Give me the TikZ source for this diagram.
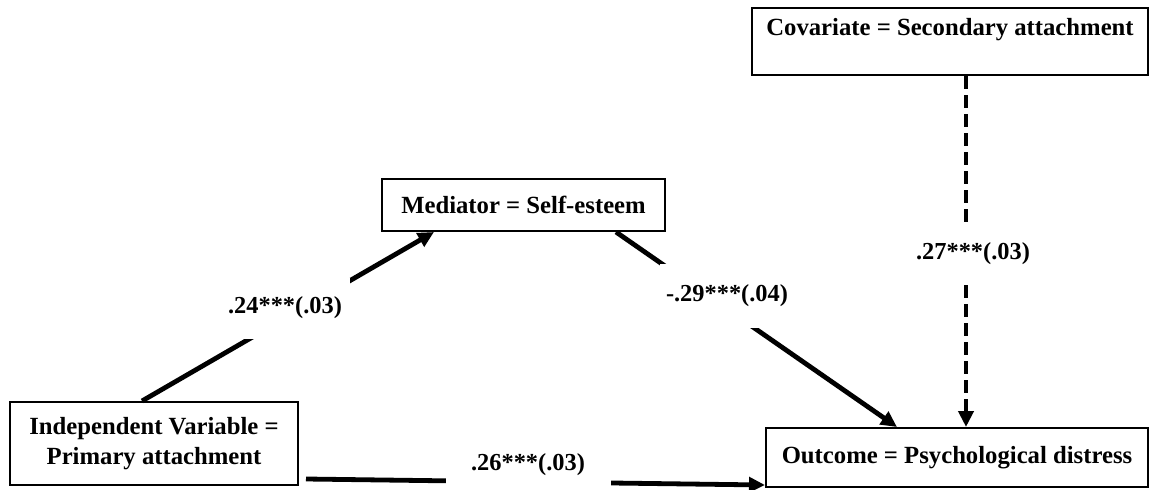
\documentclass[tikz,border=0pt]{standalone}
\usepackage{fontspec}
\setmainfont{Liberation Serif}
\usetikzlibrary{arrows.meta,calc}
\begin{document}
\begin{tikzpicture}[x=1pt,y=-1pt,
  box/.style={draw,line width=2pt,inner sep=0pt,font=\fontsize{24.7}{30}\selectfont\bfseries,align=center},
  lbl/.style={fill=white,inner sep=0pt,font=\fontsize{24.4}{30}\selectfont\bfseries},
  conn/.style={line width=4.8pt},
  arr/.style={-{Triangle[length=16pt,width=15pt]}}]
\useasboundingbox (0,0) rectangle (1152,490);
\node[box,minimum width=288pt,minimum height=83pt] (iv) at (154,443.5) {Independent Variable =\\Primary attachment};
\node[box,minimum width=283pt,minimum height=52pt] (med) at (523.5,205) {Mediator = Self-esteem};
\node[box,minimum width=396pt,minimum height=67pt] (cov) at (950,41.5) {Covariate = Secondary attachment\\\mbox{}};
\node[box,minimum width=382pt,minimum height=59pt] (out) at (957,457.5) {Outcome = Psychological distress};
\draw[conn,arr] ($(iv.north west)+(133,0)$) -- ($(med.south west)+(53,0)$);
\draw[conn,arr] ($(med.south east)+(-50,0)$) -- ($(out.north west)+(132,0)$);
\draw[conn,arr,dash pattern=on 13pt off 6pt] ($(cov.south west)+(215,0)$) -- ($(out.north west)+(201,0)$);
\draw[conn,arr] ($(iv.south east)+(7,-7)$) -- ($(out.south west)+(0,-3)$);
\node[lbl,minimum width=130pt,minimum height=61pt] (l1) at (285,308) {.24***(.03)};
\node[lbl,minimum width=135pt,minimum height=64pt] (l2) at (727,296) {-.29***(.04)};
\node[lbl,minimum width=126pt,minimum height=52pt] (l3) at (973,254) {.27***(.03)};
\node[lbl,minimum width=165pt,minimum height=50pt] (l4) at (528,465) {.26***(.03)};
\end{tikzpicture}
\end{document}
